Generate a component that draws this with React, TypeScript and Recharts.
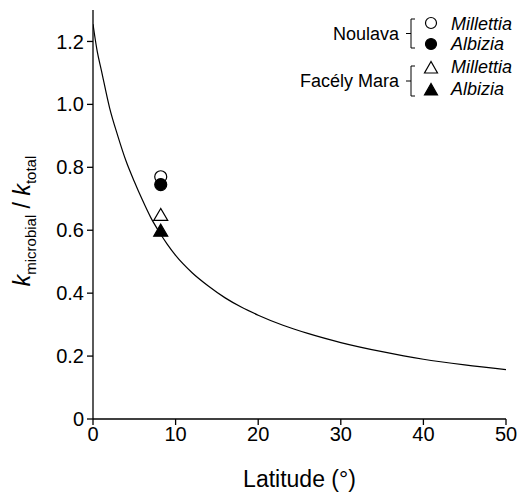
import React from 'react'
import { ComposedChart, Line, Scatter, XAxis, YAxis } from 'recharts'

// fitted curve
const curveLat = [0, 0.5, 1, 2, 3, 4, 5, 6, 7, 8, 9, 10, 12, 14, 16, 18, 20, 23, 26, 30, 35, 40, 45, 50]
const curveRatio = [
  1.255, 1.17, 1.11, 0.99, 0.9, 0.82, 0.755, 0.695, 0.64, 0.595, 0.555, 0.52, 0.465, 0.422, 0.385,
  0.355, 0.33, 0.298, 0.272, 0.243, 0.214, 0.19, 0.172, 0.157,
]

// sites and litter species
const sites = ['Noulava', 'Facély Mara']
const species = ['Millettia', 'Albizia']
const siteLat = [8.2, 8.2]
const noulavaRatio = [0.77, 0.745]
const facelyRatio = [0.647, 0.597]

const xTicks = [0, 10, 20, 30, 40, 50]
const yTicks = [0, 0.2, 0.4, 0.6, 0.8, 1.0, 1.2]

const FONT = '"Liberation Sans", Arial, sans-serif'

const curveData = curveLat.map((lat, i) => ({ lat, ratio: curveRatio[i] }))
const pt = (lat: number, ratio: number) => [{ lat, ratio }]

const circleShape = (filled: boolean) => (p: any) => (
  <circle cx={p.cx} cy={p.cy} r={6} fill={filled ? '#000' : '#fff'} stroke="#000" strokeWidth={1.2} />
)
const triangleShape = (filled: boolean) => (p: any) => (
  <path
    d={`M${p.cx},${p.cy - 7}L${p.cx - 7},${p.cy + 5}L${p.cx + 7},${p.cy + 5}Z`}
    fill={filled ? '#000' : '#fff'}
    stroke="#000"
    strokeWidth={1.2}
  />
)

function YLabel() {
  return (
    <text transform="translate(30,221) rotate(-90)" textAnchor="middle" fontFamily={FONT} fontSize={23} fill="#000">
      <tspan fontStyle="italic">k</tspan>
      <tspan fontSize={15} dy={6}>microbial</tspan>
      <tspan dy={-6}> / </tspan>
      <tspan fontStyle="italic">k</tspan>
      <tspan fontSize={15} dy={6}>total</tspan>
    </text>
  )
}

function Bracket({ y0, y1 }: { y0: number; y1: number }) {
  const mid = (y0 + y1) / 2
  return (
    <path
      d={`M415,${y0}L411,${y0}L411,${y1}L415,${y1}M411,${mid}L406,${mid}`}
      fill="none"
      stroke="#000"
      strokeWidth={1}
    />
  )
}

function LegendOverlay() {
  const sym = (kind: string, filled: boolean, y: number) =>
    kind === 'circle' ? (
      <circle cx={431} cy={y} r={5.5} fill={filled ? '#000' : '#fff'} stroke="#000" strokeWidth={1.2} />
    ) : (
      <path
        d={`M431,${y - 6.5}L424.5,${y + 5}L437.5,${y + 5}Z`}
        fill={filled ? '#000' : '#fff'}
        stroke="#000"
        strokeWidth={1.2}
      />
    )
  return (
    <svg width={524} height={110} style={{ position: 'absolute', left: 0, top: 0 }} fontFamily={FONT}>
      <text x={399} y={39.5} textAnchor="end" fontSize={18}>{sites[0]}</text>
      <Bracket y0={19} y1={48} />
      {sym('circle', false, 23)}
      {sym('circle', true, 44)}
      <text x={451} y={29.5} fontSize={18} fontStyle="italic">{species[0]}</text>
      <text x={451} y={50} fontSize={18} fontStyle="italic">{species[1]}</text>

      <text x={399} y={86.5} textAnchor="end" fontSize={18}>{sites[1]}</text>
      <Bracket y0={66} y1={96} />
      {sym('triangle', false, 68)}
      {sym('triangle', true, 90)}
      <text x={451} y={73} fontSize={18} fontStyle="italic">{species[0]}</text>
      <text x={451} y={95} fontSize={18} fontStyle="italic">{species[1]}</text>
    </svg>
  )
}

export default function App() {
  const tickStyle = { fontSize: 20, fill: '#000', fontFamily: FONT }
  return (
    <div style={{ position: 'absolute', left: 0, top: 0, width: 524, height: 497, background: '#fff' }}>
      <ComposedChart width={524} height={497} margin={{ top: 10, right: 18, bottom: 0, left: 0 }}>
        <XAxis
          type="number"
          dataKey="lat"
          domain={[0, 50]}
          ticks={xTicks}
          allowDataOverflow
          height={78}
          tickSize={6}
          tickMargin={2}
          tick={tickStyle}
          stroke="#000"
          strokeWidth={1.3}
          label={{ value: 'Latitude (°)', position: 'insideBottom', offset: 10, fontSize: 23, fill: '#000', fontFamily: FONT }}
        />
        <YAxis
          type="number"
          dataKey="ratio"
          domain={[0, 1.3]}
          ticks={yTicks}
          allowDataOverflow
          width={93}
          tickSize={6}
          tickMargin={3}
          tick={tickStyle}
          tickFormatter={(v: number) => (v === 0 ? '0' : v.toFixed(1))}
          stroke="#000"
          strokeWidth={1.3}
          label={<YLabel />}
        />
        <Line
          data={curveData}
          dataKey="ratio"
          type="monotone"
          stroke="#000"
          strokeWidth={1.2}
          dot={false}
          isAnimationActive={false}
        />
        <Scatter name={`${sites[0]} ${species[0]}`} data={pt(siteLat[0], noulavaRatio[0])} dataKey="ratio" shape={circleShape(false)} isAnimationActive={false} />
        <Scatter name={`${sites[0]} ${species[1]}`} data={pt(siteLat[0], noulavaRatio[1])} dataKey="ratio" shape={circleShape(true)} isAnimationActive={false} />
        <Scatter name={`${sites[1]} ${species[0]}`} data={pt(siteLat[1], facelyRatio[0])} dataKey="ratio" shape={triangleShape(false)} isAnimationActive={false} />
        <Scatter name={`${sites[1]} ${species[1]}`} data={pt(siteLat[1], facelyRatio[1])} dataKey="ratio" shape={triangleShape(true)} isAnimationActive={false} />
      </ComposedChart>
      <LegendOverlay />
    </div>
  )
}
